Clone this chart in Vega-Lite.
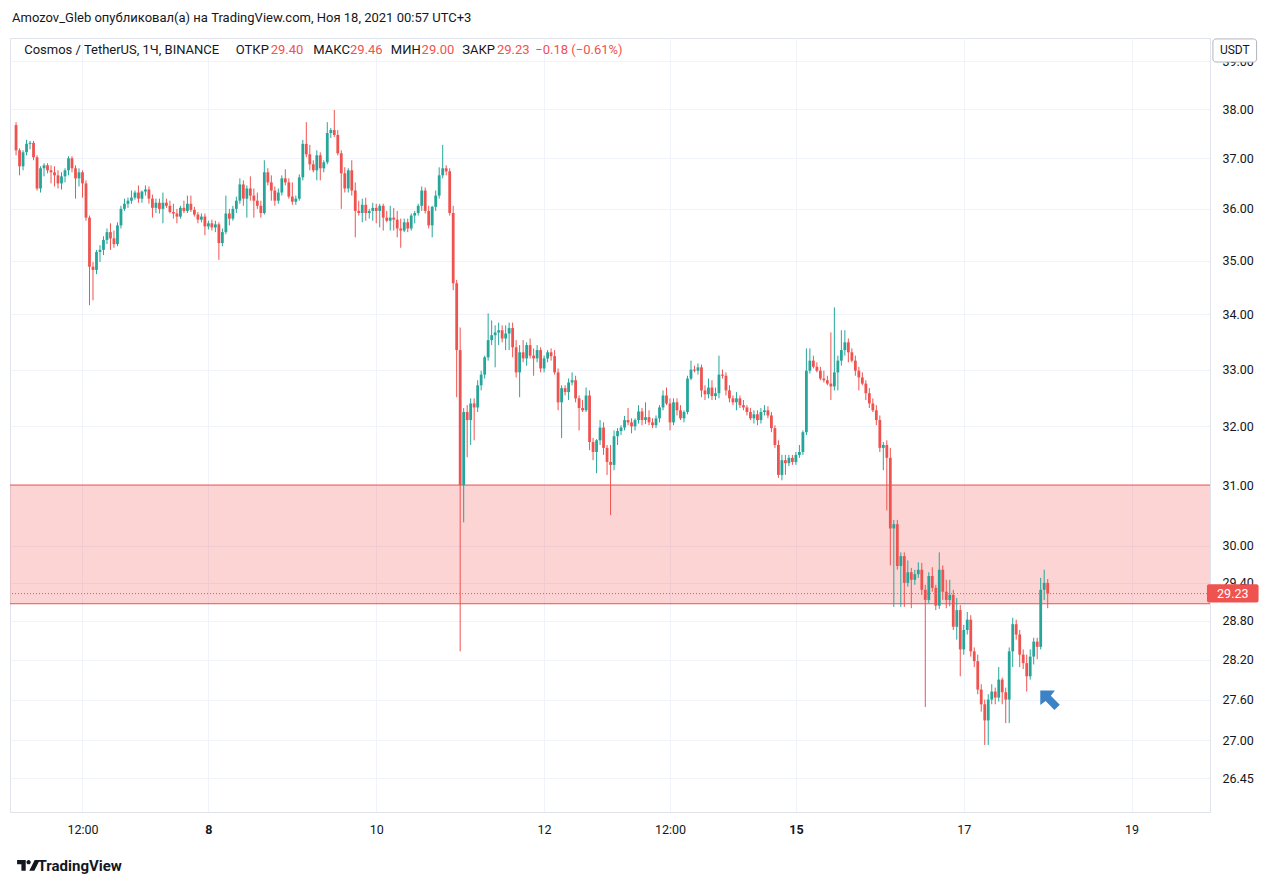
{
"$schema": "https://vega.github.io/schema/vega-lite/v6.json",
"width": 1200, "height": 774,
"autosize": "none",
"padding": {"left": 10, "top": 38, "right": 70, "bottom": 74},
"background": "#ffffff",
"config": {"font": "Roboto", "view": {"stroke": "#e0e3eb"}},
"title": {"text": "Amozov_Gleb опубликовал(а) на TradingView.com, Ноя 18, 2021 00:57 UTC+3", "anchor": "start", "frame": "group", "offset": 3, "baseline": "alphabetic", "fontSize": 13, "fontWeight": "normal", "color": "#131722", "dx": 2, "font": "Roboto"},
"datasets": {"candles": [
{"t":"2021-11-05T17:00Z","o":37.67,"h":37.73,"l":37.06,"c":37.16},
{"t":"2021-11-05T18:00Z","o":37.16,"h":37.20,"l":36.66,"c":36.84},
{"t":"2021-11-05T19:00Z","o":36.84,"h":37.16,"l":36.76,"c":37.12},
{"t":"2021-11-05T20:00Z","o":37.12,"h":37.37,"l":37.06,"c":37.29},
{"t":"2021-11-05T21:00Z","o":37.29,"h":37.35,"l":37.18,"c":37.31},
{"t":"2021-11-05T22:00Z","o":37.31,"h":37.35,"l":36.96,"c":37.02},
{"t":"2021-11-05T23:00Z","o":37.02,"h":37.06,"l":36.36,"c":36.40},
{"t":"2021-11-06T00:00Z","o":36.40,"h":36.84,"l":36.32,"c":36.80},
{"t":"2021-11-06T01:00Z","o":36.80,"h":36.90,"l":36.64,"c":36.86},
{"t":"2021-11-06T02:00Z","o":36.86,"h":36.90,"l":36.70,"c":36.76},
{"t":"2021-11-06T03:00Z","o":36.76,"h":36.86,"l":36.50,"c":36.72},
{"t":"2021-11-06T04:00Z","o":36.72,"h":36.84,"l":36.44,"c":36.66},
{"t":"2021-11-06T05:00Z","o":36.66,"h":36.76,"l":36.40,"c":36.50},
{"t":"2021-11-06T06:00Z","o":36.50,"h":36.72,"l":36.38,"c":36.64},
{"t":"2021-11-06T07:00Z","o":36.64,"h":36.80,"l":36.52,"c":36.76},
{"t":"2021-11-06T08:00Z","o":36.76,"h":37.04,"l":36.66,"c":37.00},
{"t":"2021-11-06T09:00Z","o":37.00,"h":37.04,"l":36.72,"c":36.80},
{"t":"2021-11-06T10:00Z","o":36.80,"h":36.86,"l":36.20,"c":36.60},
{"t":"2021-11-06T11:00Z","o":36.60,"h":36.80,"l":36.44,"c":36.72},
{"t":"2021-11-06T12:00Z","o":36.72,"h":36.76,"l":36.22,"c":36.50},
{"t":"2021-11-06T13:00Z","o":36.50,"h":36.56,"l":35.77,"c":35.83},
{"t":"2021-11-06T14:00Z","o":35.83,"h":35.87,"l":34.17,"c":34.89},
{"t":"2021-11-06T15:00Z","o":34.89,"h":34.98,"l":34.26,"c":34.83},
{"t":"2021-11-06T16:00Z","o":34.83,"h":35.21,"l":34.75,"c":35.17},
{"t":"2021-11-06T17:00Z","o":35.17,"h":35.30,"l":34.98,"c":35.21},
{"t":"2021-11-06T18:00Z","o":35.21,"h":35.47,"l":35.11,"c":35.40},
{"t":"2021-11-06T19:00Z","o":35.40,"h":35.62,"l":35.32,"c":35.55},
{"t":"2021-11-06T20:00Z","o":35.55,"h":35.72,"l":35.21,"c":35.43},
{"t":"2021-11-06T21:00Z","o":35.43,"h":35.58,"l":35.25,"c":35.32},
{"t":"2021-11-06T22:00Z","o":35.32,"h":35.74,"l":35.28,"c":35.68},
{"t":"2021-11-06T23:00Z","o":35.68,"h":36.06,"l":35.62,"c":36.00},
{"t":"2021-11-07T00:00Z","o":36.00,"h":36.20,"l":35.96,"c":36.10},
{"t":"2021-11-07T01:00Z","o":36.10,"h":36.22,"l":36.02,"c":36.16},
{"t":"2021-11-07T02:00Z","o":36.16,"h":36.36,"l":36.10,"c":36.22},
{"t":"2021-11-07T03:00Z","o":36.22,"h":36.36,"l":36.18,"c":36.32},
{"t":"2021-11-07T04:00Z","o":36.32,"h":36.46,"l":36.12,"c":36.20},
{"t":"2021-11-07T05:00Z","o":36.20,"h":36.36,"l":36.12,"c":36.34},
{"t":"2021-11-07T06:00Z","o":36.34,"h":36.46,"l":36.26,"c":36.38},
{"t":"2021-11-07T07:00Z","o":36.38,"h":36.44,"l":36.10,"c":36.20},
{"t":"2021-11-07T08:00Z","o":36.20,"h":36.28,"l":35.83,"c":36.02},
{"t":"2021-11-07T09:00Z","o":36.02,"h":36.20,"l":35.92,"c":36.12},
{"t":"2021-11-07T10:00Z","o":36.12,"h":36.20,"l":35.91,"c":36.00},
{"t":"2021-11-07T11:00Z","o":36.00,"h":36.32,"l":35.72,"c":36.12},
{"t":"2021-11-07T12:00Z","o":36.12,"h":36.20,"l":36.02,"c":36.06},
{"t":"2021-11-07T13:00Z","o":36.06,"h":36.16,"l":35.91,"c":35.94},
{"t":"2021-11-07T14:00Z","o":35.94,"h":36.10,"l":35.81,"c":35.91},
{"t":"2021-11-07T15:00Z","o":35.91,"h":36.00,"l":35.72,"c":35.85},
{"t":"2021-11-07T16:00Z","o":35.85,"h":36.06,"l":35.81,"c":36.02},
{"t":"2021-11-07T17:00Z","o":36.02,"h":36.16,"l":35.92,"c":35.96},
{"t":"2021-11-07T18:00Z","o":35.96,"h":36.26,"l":35.92,"c":36.10},
{"t":"2021-11-07T19:00Z","o":36.10,"h":36.26,"l":35.94,"c":35.98},
{"t":"2021-11-07T20:00Z","o":35.98,"h":36.04,"l":35.85,"c":35.89},
{"t":"2021-11-07T21:00Z","o":35.89,"h":35.94,"l":35.72,"c":35.79},
{"t":"2021-11-07T22:00Z","o":35.79,"h":35.91,"l":35.74,"c":35.85},
{"t":"2021-11-07T23:00Z","o":35.85,"h":35.91,"l":35.49,"c":35.66},
{"t":"2021-11-08T00:00Z","o":35.66,"h":35.77,"l":35.60,"c":35.72},
{"t":"2021-11-08T01:00Z","o":35.72,"h":35.79,"l":35.58,"c":35.64},
{"t":"2021-11-08T02:00Z","o":35.64,"h":35.77,"l":35.55,"c":35.70},
{"t":"2021-11-08T03:00Z","o":35.70,"h":35.74,"l":35.02,"c":35.34},
{"t":"2021-11-08T04:00Z","o":35.34,"h":35.62,"l":35.28,"c":35.55},
{"t":"2021-11-08T05:00Z","o":35.55,"h":36.26,"l":35.51,"c":35.91},
{"t":"2021-11-08T06:00Z","o":35.91,"h":36.00,"l":35.68,"c":35.81},
{"t":"2021-11-08T07:00Z","o":35.81,"h":36.06,"l":35.77,"c":36.00},
{"t":"2021-11-08T08:00Z","o":36.00,"h":36.24,"l":35.92,"c":36.16},
{"t":"2021-11-08T09:00Z","o":36.16,"h":36.60,"l":36.10,"c":36.48},
{"t":"2021-11-08T10:00Z","o":36.48,"h":36.56,"l":36.06,"c":36.20},
{"t":"2021-11-08T11:00Z","o":36.20,"h":36.46,"l":35.83,"c":36.40},
{"t":"2021-11-08T12:00Z","o":36.40,"h":36.64,"l":36.16,"c":36.26},
{"t":"2021-11-08T13:00Z","o":36.26,"h":36.40,"l":35.83,"c":36.16},
{"t":"2021-11-08T14:00Z","o":36.16,"h":36.32,"l":36.00,"c":36.06},
{"t":"2021-11-08T15:00Z","o":36.06,"h":36.16,"l":35.83,"c":35.92},
{"t":"2021-11-08T16:00Z","o":35.92,"h":36.96,"l":35.89,"c":36.72},
{"t":"2021-11-08T17:00Z","o":36.72,"h":36.80,"l":36.46,"c":36.52},
{"t":"2021-11-08T18:00Z","o":36.52,"h":36.66,"l":36.16,"c":36.36},
{"t":"2021-11-08T19:00Z","o":36.36,"h":36.44,"l":36.06,"c":36.16},
{"t":"2021-11-08T20:00Z","o":36.16,"h":36.40,"l":36.10,"c":36.32},
{"t":"2021-11-08T21:00Z","o":36.32,"h":36.66,"l":36.26,"c":36.60},
{"t":"2021-11-08T22:00Z","o":36.60,"h":36.78,"l":36.46,"c":36.52},
{"t":"2021-11-08T23:00Z","o":36.52,"h":36.60,"l":36.20,"c":36.24},
{"t":"2021-11-09T00:00Z","o":36.24,"h":36.52,"l":36.08,"c":36.14},
{"t":"2021-11-09T01:00Z","o":36.14,"h":36.26,"l":36.08,"c":36.20},
{"t":"2021-11-09T02:00Z","o":36.20,"h":36.68,"l":36.16,"c":36.62},
{"t":"2021-11-09T03:00Z","o":36.62,"h":37.37,"l":36.56,"c":37.29},
{"t":"2021-11-09T04:00Z","o":37.29,"h":37.73,"l":37.02,"c":37.08},
{"t":"2021-11-09T05:00Z","o":37.08,"h":37.27,"l":36.76,"c":36.88},
{"t":"2021-11-09T06:00Z","o":36.88,"h":36.96,"l":36.72,"c":36.76},
{"t":"2021-11-09T07:00Z","o":36.76,"h":37.16,"l":36.56,"c":37.06},
{"t":"2021-11-09T08:00Z","o":37.06,"h":37.12,"l":36.56,"c":36.80},
{"t":"2021-11-09T09:00Z","o":36.80,"h":36.96,"l":36.72,"c":36.92},
{"t":"2021-11-09T10:00Z","o":36.92,"h":37.73,"l":36.88,"c":37.51},
{"t":"2021-11-09T11:00Z","o":37.51,"h":37.61,"l":37.41,"c":37.57},
{"t":"2021-11-09T12:00Z","o":37.57,"h":37.98,"l":37.43,"c":37.47},
{"t":"2021-11-09T13:00Z","o":37.47,"h":37.57,"l":37.06,"c":37.10},
{"t":"2021-11-09T14:00Z","o":37.10,"h":37.16,"l":36.00,"c":36.70},
{"t":"2021-11-09T15:00Z","o":36.70,"h":36.82,"l":36.32,"c":36.40},
{"t":"2021-11-09T16:00Z","o":36.40,"h":36.80,"l":36.32,"c":36.76},
{"t":"2021-11-09T17:00Z","o":36.76,"h":36.96,"l":36.26,"c":36.36},
{"t":"2021-11-09T18:00Z","o":36.36,"h":36.52,"l":35.45,"c":35.96},
{"t":"2021-11-09T19:00Z","o":35.96,"h":36.16,"l":35.87,"c":35.92},
{"t":"2021-11-09T20:00Z","o":35.92,"h":36.20,"l":35.74,"c":36.08},
{"t":"2021-11-09T21:00Z","o":36.08,"h":36.22,"l":35.77,"c":35.92},
{"t":"2021-11-09T22:00Z","o":35.92,"h":36.00,"l":35.81,"c":35.96},
{"t":"2021-11-09T23:00Z","o":35.96,"h":36.12,"l":35.77,"c":36.02},
{"t":"2021-11-10T00:00Z","o":36.02,"h":36.10,"l":35.72,"c":35.96},
{"t":"2021-11-10T01:00Z","o":35.96,"h":36.10,"l":35.64,"c":36.06},
{"t":"2021-11-10T02:00Z","o":36.06,"h":36.10,"l":35.58,"c":35.83},
{"t":"2021-11-10T03:00Z","o":35.83,"h":35.96,"l":35.74,"c":35.77},
{"t":"2021-11-10T04:00Z","o":35.77,"h":36.06,"l":35.58,"c":35.83},
{"t":"2021-11-10T05:00Z","o":35.83,"h":36.02,"l":35.58,"c":35.79},
{"t":"2021-11-10T06:00Z","o":35.79,"h":35.96,"l":35.45,"c":35.62},
{"t":"2021-11-10T07:00Z","o":35.62,"h":35.81,"l":35.25,"c":35.58},
{"t":"2021-11-10T08:00Z","o":35.58,"h":35.81,"l":35.55,"c":35.74},
{"t":"2021-11-10T09:00Z","o":35.74,"h":35.81,"l":35.55,"c":35.62},
{"t":"2021-11-10T10:00Z","o":35.62,"h":35.91,"l":35.58,"c":35.87},
{"t":"2021-11-10T11:00Z","o":35.87,"h":35.96,"l":35.72,"c":35.92},
{"t":"2021-11-10T12:00Z","o":35.92,"h":36.10,"l":35.87,"c":36.06},
{"t":"2021-11-10T13:00Z","o":36.06,"h":36.44,"l":35.96,"c":36.36},
{"t":"2021-11-10T14:00Z","o":36.36,"h":36.42,"l":35.91,"c":35.96},
{"t":"2021-11-10T15:00Z","o":35.96,"h":36.06,"l":35.62,"c":35.68},
{"t":"2021-11-10T16:00Z","o":35.68,"h":36.06,"l":35.45,"c":36.04},
{"t":"2021-11-10T17:00Z","o":36.04,"h":36.36,"l":35.96,"c":36.26},
{"t":"2021-11-10T18:00Z","o":36.26,"h":36.82,"l":36.20,"c":36.66},
{"t":"2021-11-10T19:00Z","o":36.66,"h":37.27,"l":36.60,"c":36.80},
{"t":"2021-11-10T20:00Z","o":36.80,"h":36.86,"l":36.66,"c":36.74},
{"t":"2021-11-10T21:00Z","o":36.74,"h":36.80,"l":35.87,"c":35.92},
{"t":"2021-11-10T22:00Z","o":35.92,"h":36.06,"l":34.45,"c":34.58},
{"t":"2021-11-10T23:00Z","o":34.58,"h":34.64,"l":32.51,"c":33.35},
{"t":"2021-11-11T00:00Z","o":33.35,"h":33.76,"l":28.33,"c":31.00},
{"t":"2021-11-11T01:00Z","o":31.00,"h":32.32,"l":30.38,"c":32.25},
{"t":"2021-11-11T02:00Z","o":32.25,"h":32.37,"l":31.47,"c":32.11},
{"t":"2021-11-11T03:00Z","o":32.11,"h":32.49,"l":31.68,"c":32.40},
{"t":"2021-11-11T04:00Z","o":32.40,"h":32.49,"l":31.76,"c":32.33},
{"t":"2021-11-11T05:00Z","o":32.33,"h":32.81,"l":32.25,"c":32.72},
{"t":"2021-11-11T06:00Z","o":32.72,"h":32.98,"l":32.63,"c":32.91},
{"t":"2021-11-11T07:00Z","o":32.91,"h":33.25,"l":32.84,"c":33.22},
{"t":"2021-11-11T08:00Z","o":33.22,"h":34.02,"l":33.16,"c":33.53},
{"t":"2021-11-11T09:00Z","o":33.53,"h":33.89,"l":33.44,"c":33.62},
{"t":"2021-11-11T10:00Z","o":33.62,"h":33.80,"l":33.04,"c":33.67},
{"t":"2021-11-11T11:00Z","o":33.67,"h":33.85,"l":33.44,"c":33.71},
{"t":"2021-11-11T12:00Z","o":33.71,"h":33.80,"l":33.49,"c":33.56},
{"t":"2021-11-11T13:00Z","o":33.56,"h":33.80,"l":33.35,"c":33.65},
{"t":"2021-11-11T14:00Z","o":33.65,"h":33.85,"l":33.35,"c":33.75},
{"t":"2021-11-11T15:00Z","o":33.75,"h":33.85,"l":33.22,"c":33.40},
{"t":"2021-11-11T16:00Z","o":33.40,"h":33.53,"l":32.86,"c":32.95},
{"t":"2021-11-11T17:00Z","o":32.95,"h":33.44,"l":32.51,"c":33.31},
{"t":"2021-11-11T18:00Z","o":33.31,"h":33.53,"l":33.13,"c":33.20},
{"t":"2021-11-11T19:00Z","o":33.20,"h":33.49,"l":33.07,"c":33.44},
{"t":"2021-11-11T20:00Z","o":33.44,"h":33.56,"l":33.20,"c":33.25},
{"t":"2021-11-11T21:00Z","o":33.25,"h":33.38,"l":32.89,"c":33.20},
{"t":"2021-11-11T22:00Z","o":33.20,"h":33.44,"l":33.13,"c":33.35},
{"t":"2021-11-11T23:00Z","o":33.35,"h":33.40,"l":32.95,"c":33.02},
{"t":"2021-11-12T00:00Z","o":33.02,"h":33.25,"l":32.95,"c":33.20},
{"t":"2021-11-12T01:00Z","o":33.20,"h":33.35,"l":33.13,"c":33.31},
{"t":"2021-11-12T02:00Z","o":33.31,"h":33.38,"l":33.16,"c":33.24},
{"t":"2021-11-12T03:00Z","o":33.24,"h":33.35,"l":32.91,"c":32.95},
{"t":"2021-11-12T04:00Z","o":32.95,"h":33.02,"l":32.28,"c":32.42},
{"t":"2021-11-12T05:00Z","o":32.42,"h":32.72,"l":31.80,"c":32.67},
{"t":"2021-11-12T06:00Z","o":32.67,"h":32.72,"l":32.54,"c":32.60},
{"t":"2021-11-12T07:00Z","o":32.60,"h":32.84,"l":32.46,"c":32.77},
{"t":"2021-11-12T08:00Z","o":32.77,"h":32.95,"l":32.72,"c":32.81},
{"t":"2021-11-12T09:00Z","o":32.81,"h":32.89,"l":32.42,"c":32.49},
{"t":"2021-11-12T10:00Z","o":32.49,"h":32.54,"l":31.93,"c":32.32},
{"t":"2021-11-12T11:00Z","o":32.32,"h":32.46,"l":32.25,"c":32.28},
{"t":"2021-11-12T12:00Z","o":32.28,"h":32.68,"l":32.25,"c":32.54},
{"t":"2021-11-12T13:00Z","o":32.54,"h":32.63,"l":31.59,"c":31.73},
{"t":"2021-11-12T14:00Z","o":31.73,"h":31.80,"l":31.42,"c":31.56},
{"t":"2021-11-12T15:00Z","o":31.56,"h":31.78,"l":31.20,"c":31.76},
{"t":"2021-11-12T16:00Z","o":31.76,"h":32.11,"l":31.68,"c":31.98},
{"t":"2021-11-12T17:00Z","o":31.98,"h":32.07,"l":31.51,"c":31.63},
{"t":"2021-11-12T18:00Z","o":31.63,"h":31.68,"l":31.17,"c":31.39},
{"t":"2021-11-12T19:00Z","o":31.39,"h":31.68,"l":30.50,"c":31.34},
{"t":"2021-11-12T20:00Z","o":31.34,"h":31.93,"l":31.25,"c":31.83},
{"t":"2021-11-12T21:00Z","o":31.83,"h":31.97,"l":31.68,"c":31.92},
{"t":"2021-11-12T22:00Z","o":31.92,"h":32.02,"l":31.85,"c":31.98},
{"t":"2021-11-12T23:00Z","o":31.98,"h":32.18,"l":31.93,"c":32.11},
{"t":"2021-11-13T00:00Z","o":32.11,"h":32.32,"l":32.02,"c":32.07},
{"t":"2021-11-13T01:00Z","o":32.07,"h":32.14,"l":31.88,"c":32.00},
{"t":"2021-11-13T02:00Z","o":32.00,"h":32.14,"l":31.93,"c":32.11},
{"t":"2021-11-13T03:00Z","o":32.11,"h":32.37,"l":32.05,"c":32.26},
{"t":"2021-11-13T04:00Z","o":32.26,"h":32.32,"l":32.02,"c":32.11},
{"t":"2021-11-13T05:00Z","o":32.11,"h":32.42,"l":32.04,"c":32.16},
{"t":"2021-11-13T06:00Z","o":32.16,"h":32.28,"l":32.02,"c":32.07},
{"t":"2021-11-13T07:00Z","o":32.07,"h":32.14,"l":31.97,"c":32.02},
{"t":"2021-11-13T08:00Z","o":32.02,"h":32.19,"l":31.97,"c":32.14},
{"t":"2021-11-13T09:00Z","o":32.14,"h":32.37,"l":32.07,"c":32.33},
{"t":"2021-11-13T10:00Z","o":32.33,"h":32.63,"l":32.28,"c":32.54},
{"t":"2021-11-13T11:00Z","o":32.54,"h":32.68,"l":32.37,"c":32.40},
{"t":"2021-11-13T12:00Z","o":32.40,"h":32.49,"l":31.93,"c":32.07},
{"t":"2021-11-13T13:00Z","o":32.07,"h":32.49,"l":32.02,"c":32.42},
{"t":"2021-11-13T14:00Z","o":32.42,"h":32.49,"l":32.19,"c":32.28},
{"t":"2021-11-13T15:00Z","o":32.28,"h":32.37,"l":32.11,"c":32.14},
{"t":"2021-11-13T16:00Z","o":32.14,"h":32.28,"l":32.07,"c":32.25},
{"t":"2021-11-13T17:00Z","o":32.25,"h":32.89,"l":32.21,"c":32.84},
{"t":"2021-11-13T18:00Z","o":32.84,"h":33.16,"l":32.81,"c":33.00},
{"t":"2021-11-13T19:00Z","o":33.00,"h":33.07,"l":32.95,"c":32.98},
{"t":"2021-11-13T20:00Z","o":32.98,"h":33.11,"l":32.91,"c":33.04},
{"t":"2021-11-13T21:00Z","o":33.04,"h":33.09,"l":32.51,"c":32.63},
{"t":"2021-11-13T22:00Z","o":32.63,"h":32.72,"l":32.46,"c":32.56},
{"t":"2021-11-13T23:00Z","o":32.56,"h":32.84,"l":32.49,"c":32.68},
{"t":"2021-11-14T00:00Z","o":32.68,"h":32.81,"l":32.46,"c":32.53},
{"t":"2021-11-14T01:00Z","o":32.53,"h":32.68,"l":32.46,"c":32.58},
{"t":"2021-11-14T02:00Z","o":32.58,"h":33.25,"l":32.49,"c":32.91},
{"t":"2021-11-14T03:00Z","o":32.91,"h":33.00,"l":32.84,"c":32.89},
{"t":"2021-11-14T04:00Z","o":32.89,"h":32.95,"l":32.54,"c":32.63},
{"t":"2021-11-14T05:00Z","o":32.63,"h":32.72,"l":32.42,"c":32.49},
{"t":"2021-11-14T06:00Z","o":32.49,"h":32.54,"l":32.37,"c":32.42},
{"t":"2021-11-14T07:00Z","o":32.42,"h":32.60,"l":32.28,"c":32.49},
{"t":"2021-11-14T08:00Z","o":32.49,"h":32.54,"l":32.32,"c":32.37},
{"t":"2021-11-14T09:00Z","o":32.37,"h":32.46,"l":32.28,"c":32.33},
{"t":"2021-11-14T10:00Z","o":32.33,"h":32.37,"l":32.19,"c":32.25},
{"t":"2021-11-14T11:00Z","o":32.25,"h":32.32,"l":32.11,"c":32.14},
{"t":"2021-11-14T12:00Z","o":32.14,"h":32.28,"l":32.05,"c":32.21},
{"t":"2021-11-14T13:00Z","o":32.21,"h":32.28,"l":32.02,"c":32.11},
{"t":"2021-11-14T14:00Z","o":32.11,"h":32.32,"l":32.05,"c":32.25},
{"t":"2021-11-14T15:00Z","o":32.25,"h":32.37,"l":32.19,"c":32.28},
{"t":"2021-11-14T16:00Z","o":32.28,"h":32.35,"l":32.14,"c":32.19},
{"t":"2021-11-14T17:00Z","o":32.19,"h":32.25,"l":31.90,"c":31.97},
{"t":"2021-11-14T18:00Z","o":31.97,"h":32.02,"l":31.63,"c":31.68},
{"t":"2021-11-14T19:00Z","o":31.68,"h":31.76,"l":31.12,"c":31.17},
{"t":"2021-11-14T20:00Z","o":31.17,"h":31.51,"l":31.08,"c":31.42},
{"t":"2021-11-14T21:00Z","o":31.42,"h":31.51,"l":31.17,"c":31.37},
{"t":"2021-11-14T22:00Z","o":31.37,"h":31.51,"l":31.32,"c":31.46},
{"t":"2021-11-14T23:00Z","o":31.46,"h":31.51,"l":31.34,"c":31.39},
{"t":"2021-11-15T00:00Z","o":31.39,"h":31.56,"l":31.34,"c":31.51},
{"t":"2021-11-15T01:00Z","o":31.51,"h":31.68,"l":31.46,"c":31.56},
{"t":"2021-11-15T02:00Z","o":31.56,"h":31.93,"l":31.51,"c":31.90},
{"t":"2021-11-15T03:00Z","o":31.90,"h":33.38,"l":31.85,"c":32.98},
{"t":"2021-11-15T04:00Z","o":32.98,"h":33.38,"l":32.93,"c":33.16},
{"t":"2021-11-15T05:00Z","o":33.16,"h":33.25,"l":33.02,"c":33.05},
{"t":"2021-11-15T06:00Z","o":33.05,"h":33.13,"l":32.95,"c":32.98},
{"t":"2021-11-15T07:00Z","o":32.98,"h":33.05,"l":32.81,"c":32.84},
{"t":"2021-11-15T08:00Z","o":32.84,"h":32.98,"l":32.77,"c":32.81},
{"t":"2021-11-15T09:00Z","o":32.81,"h":32.89,"l":32.72,"c":32.75},
{"t":"2021-11-15T10:00Z","o":32.75,"h":33.67,"l":32.46,"c":32.70},
{"t":"2021-11-15T11:00Z","o":32.70,"h":34.13,"l":32.63,"c":32.95},
{"t":"2021-11-15T12:00Z","o":32.95,"h":33.25,"l":32.63,"c":33.16},
{"t":"2021-11-15T13:00Z","o":33.16,"h":33.71,"l":33.07,"c":33.35},
{"t":"2021-11-15T14:00Z","o":33.35,"h":33.71,"l":33.25,"c":33.49},
{"t":"2021-11-15T15:00Z","o":33.49,"h":33.56,"l":33.13,"c":33.31},
{"t":"2021-11-15T16:00Z","o":33.31,"h":33.38,"l":33.13,"c":33.16},
{"t":"2021-11-15T17:00Z","o":33.16,"h":33.25,"l":32.89,"c":32.98},
{"t":"2021-11-15T18:00Z","o":32.98,"h":33.05,"l":32.63,"c":32.86},
{"t":"2021-11-15T19:00Z","o":32.86,"h":32.95,"l":32.72,"c":32.75},
{"t":"2021-11-15T20:00Z","o":32.75,"h":32.81,"l":32.46,"c":32.58},
{"t":"2021-11-15T21:00Z","o":32.58,"h":32.67,"l":32.32,"c":32.40},
{"t":"2021-11-15T22:00Z","o":32.40,"h":32.49,"l":32.25,"c":32.28},
{"t":"2021-11-15T23:00Z","o":32.28,"h":32.37,"l":32.02,"c":32.11},
{"t":"2021-11-16T00:00Z","o":32.11,"h":32.19,"l":31.56,"c":31.63},
{"t":"2021-11-16T01:00Z","o":31.63,"h":31.73,"l":31.25,"c":31.68},
{"t":"2021-11-16T02:00Z","o":31.68,"h":31.76,"l":30.58,"c":31.46},
{"t":"2021-11-16T03:00Z","o":31.46,"h":31.63,"l":29.68,"c":30.28},
{"t":"2021-11-16T04:00Z","o":30.28,"h":30.42,"l":29.02,"c":30.35},
{"t":"2021-11-16T05:00Z","o":30.35,"h":30.42,"l":29.61,"c":29.67},
{"t":"2021-11-16T06:00Z","o":29.67,"h":29.89,"l":29.02,"c":29.83},
{"t":"2021-11-16T07:00Z","o":29.83,"h":29.89,"l":29.02,"c":29.40},
{"t":"2021-11-16T08:00Z","o":29.40,"h":29.76,"l":29.34,"c":29.57},
{"t":"2021-11-16T09:00Z","o":29.57,"h":29.64,"l":29.00,"c":29.45},
{"t":"2021-11-16T10:00Z","o":29.45,"h":29.61,"l":29.37,"c":29.54},
{"t":"2021-11-16T11:00Z","o":29.54,"h":29.73,"l":29.48,"c":29.61},
{"t":"2021-11-16T12:00Z","o":29.61,"h":29.72,"l":29.21,"c":29.29},
{"t":"2021-11-16T13:00Z","o":29.29,"h":29.37,"l":27.49,"c":29.13},
{"t":"2021-11-16T14:00Z","o":29.13,"h":29.57,"l":29.08,"c":29.51},
{"t":"2021-11-16T15:00Z","o":29.51,"h":29.65,"l":29.26,"c":29.32},
{"t":"2021-11-16T16:00Z","o":29.32,"h":29.37,"l":28.97,"c":29.04},
{"t":"2021-11-16T17:00Z","o":29.04,"h":29.89,"l":28.99,"c":29.61},
{"t":"2021-11-16T18:00Z","o":29.61,"h":29.68,"l":29.13,"c":29.26},
{"t":"2021-11-16T19:00Z","o":29.26,"h":29.45,"l":29.00,"c":29.13},
{"t":"2021-11-16T20:00Z","o":29.13,"h":29.45,"l":29.03,"c":29.21},
{"t":"2021-11-16T21:00Z","o":29.21,"h":29.29,"l":28.66,"c":28.71},
{"t":"2021-11-16T22:00Z","o":28.71,"h":29.16,"l":28.51,"c":28.97},
{"t":"2021-11-16T23:00Z","o":28.97,"h":29.05,"l":27.95,"c":28.36},
{"t":"2021-11-17T00:00Z","o":28.36,"h":28.74,"l":28.28,"c":28.66},
{"t":"2021-11-17T01:00Z","o":28.66,"h":28.94,"l":28.59,"c":28.82},
{"t":"2021-11-17T02:00Z","o":28.82,"h":28.89,"l":28.25,"c":28.33},
{"t":"2021-11-17T03:00Z","o":28.33,"h":28.39,"l":28.09,"c":28.18},
{"t":"2021-11-17T04:00Z","o":28.18,"h":28.28,"l":27.68,"c":27.75},
{"t":"2021-11-17T05:00Z","o":27.75,"h":27.83,"l":27.42,"c":27.53},
{"t":"2021-11-17T06:00Z","o":27.53,"h":27.60,"l":26.93,"c":27.29},
{"t":"2021-11-17T07:00Z","o":27.29,"h":27.68,"l":26.93,"c":27.60},
{"t":"2021-11-17T08:00Z","o":27.60,"h":27.83,"l":27.53,"c":27.72},
{"t":"2021-11-17T09:00Z","o":27.72,"h":27.78,"l":27.53,"c":27.63},
{"t":"2021-11-17T10:00Z","o":27.63,"h":28.09,"l":27.57,"c":27.90},
{"t":"2021-11-17T11:00Z","o":27.90,"h":27.93,"l":27.53,"c":27.71},
{"t":"2021-11-17T12:00Z","o":27.71,"h":27.78,"l":27.25,"c":27.60},
{"t":"2021-11-17T13:00Z","o":27.60,"h":28.39,"l":27.25,"c":28.33},
{"t":"2021-11-17T14:00Z","o":28.33,"h":28.85,"l":28.09,"c":28.75},
{"t":"2021-11-17T15:00Z","o":28.75,"h":28.82,"l":28.51,"c":28.59},
{"t":"2021-11-17T16:00Z","o":28.59,"h":28.66,"l":28.09,"c":28.28},
{"t":"2021-11-17T17:00Z","o":28.28,"h":28.36,"l":28.06,"c":28.15},
{"t":"2021-11-17T18:00Z","o":28.15,"h":28.28,"l":27.72,"c":27.95},
{"t":"2021-11-17T19:00Z","o":27.95,"h":28.36,"l":27.90,"c":28.25},
{"t":"2021-11-17T20:00Z","o":28.25,"h":28.54,"l":28.13,"c":28.48},
{"t":"2021-11-17T21:00Z","o":28.48,"h":28.54,"l":28.21,"c":28.40},
{"t":"2021-11-17T22:00Z","o":28.40,"h":29.48,"l":28.36,"c":29.29},
{"t":"2021-11-17T23:00Z","o":29.29,"h":29.61,"l":29.13,"c":29.40},
{"t":"2021-11-18T00:00Z","o":29.40,"h":29.46,"l":29.00,"c":29.23}
]},
"layer": [
{"data": {"values": [{}]}, "mark": {"type": "rect", "color": "#ef5350", "opacity": 0.25},
 "encoding": {"y": {"datum": 31.0, "type": "quantitative"}, "y2": {"datum": 29.07}}},
{"data": {"values": [{}]}, "mark": {"type": "rule", "color": "#ef5350", "strokeWidth": 1},
 "encoding": {"y": {"datum": 31.0, "type": "quantitative"}}},
{"data": {"values": [{}]}, "mark": {"type": "rule", "color": "#ef5350", "strokeWidth": 1},
 "encoding": {"y": {"datum": 29.07, "type": "quantitative"}}},
{"data": {"values": [{}]}, "mark": {"type": "rule", "color": "#ef5350", "strokeWidth": 1, "strokeDash": [1, 2]},
 "encoding": {"y": {"datum": 29.23, "type": "quantitative"}}},
{"data": {"name": "candles"},
 "mark": {"type": "rule", "strokeWidth": 1},
 "encoding": {
  "x": {"field": "t", "type": "temporal",
   "scale": {"type": "utc", "domain": [{"year": 2021, "month": 11, "date": 5, "hours": 16, "minutes": 42, "utc": true}, {"year": 2021, "month": 11, "date": 19, "hours": 20, "minutes": 59, "utc": true}]},
   "axis": {"values": [
     {"year": 2021, "month": 11, "date": 6, "hours": 12, "utc": true},
     {"year": 2021, "month": 11, "date": 8, "utc": true},
     {"year": 2021, "month": 11, "date": 10, "utc": true},
     {"year": 2021, "month": 11, "date": 12, "utc": true},
     {"year": 2021, "month": 11, "date": 13, "hours": 12, "utc": true},
     {"year": 2021, "month": 11, "date": 15, "utc": true},
     {"year": 2021, "month": 11, "date": 17, "utc": true},
     {"year": 2021, "month": 11, "date": 19, "utc": true}],
    "labelExpr": "utchours(datum.value) == 12 ? '12:00' : utcFormat(datum.value, '%-d')",
    "labelFontWeight": {"condition": {"test": "utchours(datum.value) == 0 && (utcdate(datum.value) == 8 || utcdate(datum.value) == 15)", "value": "bold"}, "value": "normal"},
    "grid": true, "gridColor": "#f0f3fa", "ticks": false, "domainColor": "#e0e3eb",
    "labelColor": "#131722", "labelFontSize": 12.5, "labelPadding": 11, "labelFont": "Roboto",
    "labelFlush": false, "labelOverlap": false,
    "title": "TradingView", "titleX": 27, "titleY": 58, "titleAlign": "left", "titleBaseline": "alphabetic",
    "titleFontSize": 15, "titleFontWeight": "bold", "titleColor": "#131722", "titleFont": "Roboto"}},
  "y": {"field": "l", "type": "quantitative",
   "scale": {"type": "log", "domain": [25.97, 39.49], "nice": false, "zero": false},
   "axis": {"orient": "right", "values": [39, 38, 37, 36, 35, 34, 33, 32, 31, 30, 29.4, 28.8, 28.2, 27.6, 27, 26.45],
    "format": ".2f", "grid": true, "gridColor": "#f0f3fa", "ticks": false, "domainColor": "#e0e3eb",
    "labelColor": "#131722", "labelFontSize": 12.5, "labelPadding": 12, "labelFont": "Roboto",
    "labelFlush": false, "labelOverlap": false, "title": null}},
  "y2": {"field": "h"},
  "color": {"condition": {"test": "datum.c >= datum.o", "value": "#26a69a"}, "value": "#ef5350"}}},
{"data": {"name": "candles"},
 "mark": {"type": "bar", "size": 2.8},
 "encoding": {
  "x": {"field": "t", "type": "temporal"},
  "y": {"field": "o", "type": "quantitative"},
  "y2": {"field": "c"},
  "color": {"condition": {"test": "datum.c >= datum.o", "value": "#26a69a"}, "value": "#ef5350"}}},
{"data": {"values": [{}]}, "mark": {"type": "text", "text": "Cosmos / TetherUS, 1Ч, BINANCE", "align": "left", "baseline": "middle", "fontSize": 13, "color": "#131722", "font": "Roboto"},
 "encoding": {"x": {"datum": {"year": 2021, "month": 11, "date": 5, "hours": 19, "minutes": 20, "utc": true}, "type": "temporal"}, "y": {"datum": 39.23, "type": "quantitative"}}},
{"data": {"values": [{}]}, "mark": {"type": "text", "text": "ОТКР", "align": "left", "baseline": "middle", "fontSize": 13, "color": "#131722", "font": "Roboto"},
 "encoding": {"x": {"datum": {"year": 2021, "month": 11, "date": 8, "hours": 7, "minutes": 50, "utc": true}, "type": "temporal"}, "y": {"datum": 39.23, "type": "quantitative"}}},
{"data": {"values": [{}]}, "mark": {"type": "text", "text": "29.40", "align": "left", "baseline": "middle", "fontSize": 13, "color": "#ef5350", "font": "Roboto"},
 "encoding": {"x": {"datum": {"year": 2021, "month": 11, "date": 8, "hours": 17, "minutes": 50, "utc": true}, "type": "temporal"}, "y": {"datum": 39.23, "type": "quantitative"}}},
{"data": {"values": [{}]}, "mark": {"type": "text", "text": "МАКС", "align": "left", "baseline": "middle", "fontSize": 13, "color": "#131722", "font": "Roboto"},
 "encoding": {"x": {"datum": {"year": 2021, "month": 11, "date": 9, "hours": 6, "minutes": 0, "utc": true}, "type": "temporal"}, "y": {"datum": 39.23, "type": "quantitative"}}},
{"data": {"values": [{}]}, "mark": {"type": "text", "text": "29.46", "align": "left", "baseline": "middle", "fontSize": 13, "color": "#ef5350", "font": "Roboto"},
 "encoding": {"x": {"datum": {"year": 2021, "month": 11, "date": 9, "hours": 16, "minutes": 30, "utc": true}, "type": "temporal"}, "y": {"datum": 39.23, "type": "quantitative"}}},
{"data": {"values": [{}]}, "mark": {"type": "text", "text": "МИН", "align": "left", "baseline": "middle", "fontSize": 13, "color": "#131722", "font": "Roboto"},
 "encoding": {"x": {"datum": {"year": 2021, "month": 11, "date": 10, "hours": 4, "minutes": 10, "utc": true}, "type": "temporal"}, "y": {"datum": 39.23, "type": "quantitative"}}},
{"data": {"values": [{}]}, "mark": {"type": "text", "text": "29.00", "align": "left", "baseline": "middle", "fontSize": 13, "color": "#ef5350", "font": "Roboto"},
 "encoding": {"x": {"datum": {"year": 2021, "month": 11, "date": 10, "hours": 12, "minutes": 58, "utc": true}, "type": "temporal"}, "y": {"datum": 39.23, "type": "quantitative"}}},
{"data": {"values": [{}]}, "mark": {"type": "text", "text": "ЗАКР", "align": "left", "baseline": "middle", "fontSize": 13, "color": "#131722", "font": "Roboto"},
 "encoding": {"x": {"datum": {"year": 2021, "month": 11, "date": 11, "hours": 0, "minutes": 35, "utc": true}, "type": "temporal"}, "y": {"datum": 39.23, "type": "quantitative"}}},
{"data": {"values": [{}]}, "mark": {"type": "text", "text": "29.23", "align": "left", "baseline": "middle", "fontSize": 13, "color": "#ef5350", "font": "Roboto"},
 "encoding": {"x": {"datum": {"year": 2021, "month": 11, "date": 11, "hours": 10, "minutes": 30, "utc": true}, "type": "temporal"}, "y": {"datum": 39.23, "type": "quantitative"}}},
{"data": {"values": [{}]}, "mark": {"type": "text", "text": "−0.18 (−0.61%)", "align": "left", "baseline": "middle", "fontSize": 13, "color": "#ef5350", "font": "Roboto"},
 "encoding": {"x": {"datum": {"year": 2021, "month": 11, "date": 11, "hours": 21, "minutes": 30, "utc": true}, "type": "temporal"}, "y": {"datum": 39.23, "type": "quantitative"}}},
{"data": {"values": [{}]}, "mark": {"type": "rect", "fill": "#ffffff", "stroke": "#b2b5be", "strokeWidth": 1, "cornerRadius": 3},
 "encoding": {"x": {"datum": {"year": 2021, "month": 11, "date": 19, "hours": 23, "minutes": 15, "utc": true}, "type": "temporal"}, "x2": {"datum": {"year": 2021, "month": 11, "date": 20, "hours": 11, "minutes": 44, "utc": true}}, "y": {"datum": 39.47, "type": "quantitative"}, "y2": {"datum": 38.98}}},
{"data": {"values": [{}]}, "mark": {"type": "text", "text": "USDT", "align": "center", "baseline": "middle", "fontSize": 12, "color": "#131722", "font": "Roboto"},
 "encoding": {"x": {"datum": {"year": 2021, "month": 11, "date": 20, "hours": 5, "minutes": 30, "utc": true}, "type": "temporal"}, "y": {"datum": 39.23, "type": "quantitative"}}},
{"data": {"values": [{}]}, "mark": {"type": "rect", "fill": "#ef5350", "cornerRadius": 2},
 "encoding": {"x": {"datum": {"year": 2021, "month": 11, "date": 19, "hours": 21, "minutes": 33, "utc": true}, "type": "temporal"}, "x2": {"datum": {"year": 2021, "month": 11, "date": 20, "hours": 12, "minutes": 18, "utc": true}}, "y": {"datum": 29.38, "type": "quantitative"}, "y2": {"datum": 29.09}}},
{"data": {"values": [{}]}, "mark": {"type": "text", "text": "29.23", "align": "center", "baseline": "middle", "fontSize": 12.5, "color": "#ffffff", "font": "Roboto"},
 "encoding": {"x": {"datum": {"year": 2021, "month": 11, "date": 20, "hours": 4, "minutes": 56, "utc": true}, "type": "temporal"}, "y": {"datum": 29.23, "type": "quantitative"}}},
{"data": {"values": [{}]}, "mark": {"type": "point", "shape": "M -1 -1 L 0.5 -1 L 0.08 -0.45 L 1 0.45 L 0.45 1 L -0.45 0.08 L -1 0.5 Z", "filled": true, "color": "#3b82c6", "opacity": 1, "size": 380},
 "encoding": {"x": {"datum": {"year": 2021, "month": 11, "date": 18, "hours": 0, "minutes": 40, "utc": true}, "type": "temporal"}, "y": {"datum": 27.59, "type": "quantitative"}}},
{"data": {"values": [{}]}, "mark": {"type": "point", "shape": "M -0.234 -0.469 L -0.984 -0.469 L -0.984 -0.094 L -0.609 -0.094 L -0.609 0.469 L -0.234 0.469 Z M 0.516 0.469 L 0.078 0.469 L 0.547 -0.469 L 0.984 -0.469 Z M -0.172 -0.281 A 0.1875 0.1875 0 1 0 0.203 -0.281 A 0.1875 0.1875 0 1 0 -0.172 -0.281 Z", "filled": true, "color": "#131722", "opacity": 1, "size": 530},
 "encoding": {"x": {"datum": {"year": 2021, "month": 11, "date": 5, "hours": 20, "minutes": 32, "utc": true}, "type": "temporal"}, "y": {"datum": 25.23, "type": "quantitative"}}}
]
}
